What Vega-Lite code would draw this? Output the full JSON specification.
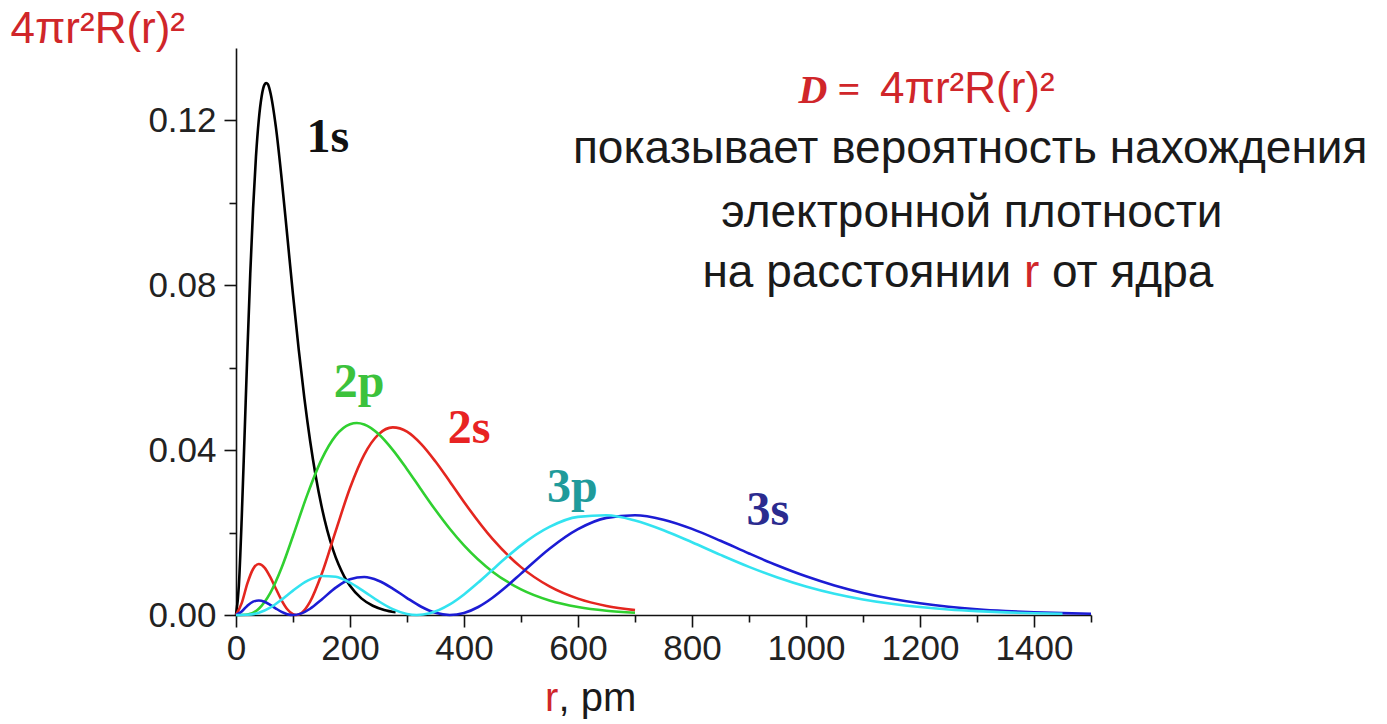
{
  "$schema": "https://vega.github.io/schema/vega-lite/v6.json",
  "width": 855,
  "height": 567,
  "autosize": "none",
  "padding": {"left": 236, "top": 48, "right": 296, "bottom": 109},
  "background": "white",
  "config": {"view": {"stroke": null}, "font": "Liberation Sans"},
  "datasets": {
    "curves": [
      {"o": "1s", "r": 0, "v": 0}, {"o": "1s", "r": 5, "v": 0.00705}, {"o": "1s", "r": 10, "v": 0.02334}, {"o": "1s", "r": 15, "v": 0.04347}, {"o": "1s", "r": 20, "v": 0.06395}, {"o": "1s", "r": 25, "v": 0.08272}, {"o": "1s", "r": 30, "v": 0.09862}, {"o": "1s", "r": 35, "v": 0.1111}, {"o": "1s", "r": 40, "v": 0.1201}, {"o": "1s", "r": 45, "v": 0.1258}, {"o": "1s", "r": 50, "v": 0.1286}, {"o": "1s", "r": 53, "v": 0.129}, {"o": "1s", "r": 56, "v": 0.1287}, {"o": "1s", "r": 60, "v": 0.1269}, {"o": "1s", "r": 70, "v": 0.1183}, {"o": "1s", "r": 80, "v": 0.1059}, {"o": "1s", "r": 90, "v": 0.09185}, {"o": "1s", "r": 100, "v": 0.0777}, {"o": "1s", "r": 110, "v": 0.06442}, {"o": "1s", "r": 120, "v": 0.05253}, {"o": "1s", "r": 130, "v": 0.04225}, {"o": "1s", "r": 140, "v": 0.03357}, {"o": "1s", "r": 150, "v": 0.02641}, {"o": "1s", "r": 160, "v": 0.02058}, {"o": "1s", "r": 170, "v": 0.01593}, {"o": "1s", "r": 180, "v": 0.01223}, {"o": "1s", "r": 190, "v": 0.00933}, {"o": "1s", "r": 200, "v": 0.00709}, {"o": "1s", "r": 220, "v": 0.00403}, {"o": "1s", "r": 240, "v": 0.00225}, {"o": "1s", "r": 260, "v": 0.00124}, {"o": "1s", "r": 280, "v": 0.00068},

      {"o": "2s", "r": 0, "v": 0}, {"o": "2s", "r": 10, "v": 0.00289}, {"o": "2s", "r": 20, "v": 0.00767}, {"o": "2s", "r": 30, "v": 0.01116}, {"o": "2s", "r": 40, "v": 0.01237}, {"o": "2s", "r": 50, "v": 0.01151}, {"o": "2s", "r": 60, "v": 0.00924}, {"o": "2s", "r": 70, "v": 0.00636}, {"o": "2s", "r": 80, "v": 0.00357}, {"o": "2s", "r": 90, "v": 0.0014}, {"o": "2s", "r": 100, "v": 0.00019}, {"o": "2s", "r": 106, "v": 0}, {"o": "2s", "r": 115, "v": 0.00048}, {"o": "2s", "r": 130, "v": 0.00323}, {"o": "2s", "r": 150, "v": 0.00982}, {"o": "2s", "r": 175, "v": 0.02041}, {"o": "2s", "r": 200, "v": 0.0308}, {"o": "2s", "r": 225, "v": 0.03891}, {"o": "2s", "r": 250, "v": 0.04381}, {"o": "2s", "r": 275, "v": 0.0455}, {"o": "2s", "r": 300, "v": 0.04447}, {"o": "2s", "r": 325, "v": 0.04145}, {"o": "2s", "r": 350, "v": 0.03721}, {"o": "2s", "r": 375, "v": 0.03237}, {"o": "2s", "r": 400, "v": 0.0274}, {"o": "2s", "r": 450, "v": 0.01845}, {"o": "2s", "r": 500, "v": 0.01161}, {"o": "2s", "r": 550, "v": 0.00694}, {"o": "2s", "r": 600, "v": 0.00397}, {"o": "2s", "r": 650, "v": 0.0022}, {"o": "2s", "r": 700, "v": 0.00118},

      {"o": "2p", "r": 0, "v": 0}, {"o": "2p", "r": 20, "v": 0.00014}, {"o": "2p", "r": 40, "v": 0.00152}, {"o": "2p", "r": 60, "v": 0.00529}, {"o": "2p", "r": 80, "v": 0.01145}, {"o": "2p", "r": 100, "v": 0.01915}, {"o": "2p", "r": 125, "v": 0.02913}, {"o": "2p", "r": 150, "v": 0.03768}, {"o": "2p", "r": 175, "v": 0.04351}, {"o": "2p", "r": 200, "v": 0.04627}, {"o": "2p", "r": 212, "v": 0.04656}, {"o": "2p", "r": 225, "v": 0.04621}, {"o": "2p", "r": 250, "v": 0.0439}, {"o": "2p", "r": 275, "v": 0.04006}, {"o": "2p", "r": 300, "v": 0.03537}, {"o": "2p", "r": 325, "v": 0.03037}, {"o": "2p", "r": 350, "v": 0.02546}, {"o": "2p", "r": 375, "v": 0.02092}, {"o": "2p", "r": 400, "v": 0.01688}, {"o": "2p", "r": 450, "v": 0.01051}, {"o": "2p", "r": 500, "v": 0.00623}, {"o": "2p", "r": 550, "v": 0.00354}, {"o": "2p", "r": 600, "v": 0.00195}, {"o": "2p", "r": 650, "v": 0.00104}, {"o": "2p", "r": 700, "v": 0.00055},

      {"o": "3s", "r": 0, "v": 0}, {"o": "3s", "r": 10, "v": 0.00086}, {"o": "3s", "r": 20, "v": 0.00226}, {"o": "3s", "r": 30, "v": 0.00325}, {"o": "3s", "r": 40, "v": 0.00353}, {"o": "3s", "r": 50, "v": 0.0032}, {"o": "3s", "r": 60, "v": 0.00246}, {"o": "3s", "r": 70, "v": 0.00157}, {"o": "3s", "r": 80, "v": 0.00077}, {"o": "3s", "r": 90, "v": 0.00021}, {"o": "3s", "r": 100, "v": 0}, {"o": "3s", "r": 115, "v": 0.00039}, {"o": "3s", "r": 130, "v": 0.00151}, {"o": "3s", "r": 150, "v": 0.00372}, {"o": "3s", "r": 175, "v": 0.00664}, {"o": "3s", "r": 200, "v": 0.00866}, {"o": "3s", "r": 225, "v": 0.0092}, {"o": "3s", "r": 250, "v": 0.00832}, {"o": "3s", "r": 275, "v": 0.00642}, {"o": "3s", "r": 300, "v": 0.00411}, {"o": "3s", "r": 325, "v": 0.002}, {"o": "3s", "r": 350, "v": 0.00053}, {"o": "3s", "r": 375, "v": 0}, {"o": "3s", "r": 400, "v": 0.00049}, {"o": "3s", "r": 425, "v": 0.00194}, {"o": "3s", "r": 450, "v": 0.00418}, {"o": "3s", "r": 475, "v": 0.00696}, {"o": "3s", "r": 500, "v": 0.01003}, {"o": "3s", "r": 550, "v": 0.01607}, {"o": "3s", "r": 600, "v": 0.02081}, {"o": "3s", "r": 650, "v": 0.02355}, {"o": "3s", "r": 700, "v": 0.02419}, {"o": "3s", "r": 750, "v": 0.02311}, {"o": "3s", "r": 800, "v": 0.02088}, {"o": "3s", "r": 850, "v": 0.018}, {"o": "3s", "r": 900, "v": 0.01493}, {"o": "3s", "r": 950, "v": 0.012}, {"o": "3s", "r": 1000, "v": 0.00938}, {"o": "3s", "r": 1050, "v": 0.00716}, {"o": "3s", "r": 1100, "v": 0.00535}, {"o": "3s", "r": 1150, "v": 0.00392}, {"o": "3s", "r": 1200, "v": 0.00283}, {"o": "3s", "r": 1250, "v": 0.00201}, {"o": "3s", "r": 1300, "v": 0.00141}, {"o": "3s", "r": 1350, "v": 0.00098}, {"o": "3s", "r": 1400, "v": 0.00067}, {"o": "3s", "r": 1450, "v": 0.00045}, {"o": "3s", "r": 1500, "v": 0.0003},

      {"o": "3p", "r": 0, "v": 0}, {"o": "3p", "r": 20, "v": 0.00005}, {"o": "3p", "r": 40, "v": 0.00053}, {"o": "3p", "r": 60, "v": 0.00178}, {"o": "3p", "r": 80, "v": 0.00372}, {"o": "3p", "r": 100, "v": 0.00592}, {"o": "3p", "r": 125, "v": 0.00827}, {"o": "3p", "r": 150, "v": 0.00947}, {"o": "3p", "r": 175, "v": 0.00927}, {"o": "3p", "r": 200, "v": 0.00784}, {"o": "3p", "r": 225, "v": 0.00568}, {"o": "3p", "r": 250, "v": 0.00336}, {"o": "3p", "r": 275, "v": 0.00142}, {"o": "3p", "r": 300, "v": 0.00025}, {"o": "3p", "r": 317, "v": 0}, {"o": "3p", "r": 340, "v": 0.00042}, {"o": "3p", "r": 375, "v": 0.00257}, {"o": "3p", "r": 400, "v": 0.00499}, {"o": "3p", "r": 425, "v": 0.00788}, {"o": "3p", "r": 450, "v": 0.01098}, {"o": "3p", "r": 475, "v": 0.01404}, {"o": "3p", "r": 500, "v": 0.01689}, {"o": "3p", "r": 550, "v": 0.02137}, {"o": "3p", "r": 600, "v": 0.0238}, {"o": "3p", "r": 650, "v": 0.02418}, {"o": "3p", "r": 700, "v": 0.02292}, {"o": "3p", "r": 750, "v": 0.02056}, {"o": "3p", "r": 800, "v": 0.01764}, {"o": "3p", "r": 850, "v": 0.01458}, {"o": "3p", "r": 900, "v": 0.01167}, {"o": "3p", "r": 950, "v": 0.0091}, {"o": "3p", "r": 1000, "v": 0.00692}, {"o": "3p", "r": 1050, "v": 0.00516}, {"o": "3p", "r": 1100, "v": 0.00378}, {"o": "3p", "r": 1150, "v": 0.00272}, {"o": "3p", "r": 1200, "v": 0.00193}, {"o": "3p", "r": 1250, "v": 0.00135}, {"o": "3p", "r": 1300, "v": 0.00094}, {"o": "3p", "r": 1350, "v": 0.00064}, {"o": "3p", "r": 1400, "v": 0.00043}, {"o": "3p", "r": 1450, "v": 0.00029}
    ]
  },
  "layer": [
    {
      "data": {"name": "curves"},
      "mark": {"type": "line", "strokeWidth": 2.6, "interpolate": "monotone"},
      "encoding": {
        "x": {
          "field": "r", "type": "quantitative",
          "scale": {"domain": [0, 1500], "nice": false, "zero": false},
          "axis": {"orient": "bottom", "values": [0, 200, 400, 600, 800, 1000, 1200, 1400], "format": "d", "title": null, "grid": false,
                   "tickSize": 12, "tickWidth": 1.6, "tickColor": "#111111", "domainColor": "#111111", "domainWidth": 1.6,
                   "labelFontSize": 35, "labelColor": "#222222", "labelPadding": 4, "labelFlush": false, "labelFont": "Liberation Sans"}
        },
        "y": {
          "field": "v", "type": "quantitative",
          "scale": {"domain": [0, 0.1375], "nice": false},
          "axis": {"orient": "left", "values": [0, 0.04, 0.08, 0.12], "format": ".2f", "grid": false,
                   "title": "4πr²R(r)²", "titleAngle": 0, "titleAlign": "left", "titleBaseline": "alphabetic",
                   "titleX": -226, "titleY": -6, "titleFontSize": 44, "titleFontWeight": "normal", "titleColor": "#d0262a", "titleFont": "Liberation Sans",
                   "tickSize": 12, "tickWidth": 1.6, "tickColor": "#111111", "domainColor": "#111111", "domainWidth": 1.6,
                   "labelFontSize": 35, "labelColor": "#222222", "labelPadding": 8, "labelFlush": false, "labelFont": "Liberation Sans"}
        },
        "color": {
          "field": "o", "type": "nominal",
          "scale": {"domain": ["3s", "3p", "2p", "2s", "1s"], "range": ["#1c1cd4", "#33e3f0", "#30d030", "#e4261f", "#000000"]},
          "legend": null
        }
      }
    },
    {
      "data": {"values": [
        {"r": 1288, "v": 0.1096, "t": "показывает вероятность нахождения"},
        {"r": 1291, "v": 0.0941, "t": "электронной плотности"}
      ]},
      "mark": {"type": "text", "align": "center", "baseline": "alphabetic", "fontSize": 46, "font": "Liberation Sans", "color": "#1a1a1a"},
      "encoding": {
        "x": {"field": "r", "type": "quantitative",
              "axis": {"orient": "bottom", "values": [100, 300, 500, 700, 900, 1100, 1300, 1500], "labels": false, "domain": false, "grid": false, "title": null,
                       "tickSize": 7, "tickWidth": 1.6, "tickColor": "#111111"}},
        "y": {"field": "v", "type": "quantitative",
              "axis": {"orient": "left", "values": [0.02, 0.06, 0.1], "labels": false, "domain": false, "grid": false, "title": null,
                       "tickSize": 7, "tickWidth": 1.6, "tickColor": "#111111"}},
        "text": {"field": "t"}
      }
    },
    {
      "data": {"values": [{"r": 1360, "v": 0.0795, "t": "на расстоянии"}]},
      "mark": {"type": "text", "align": "right", "baseline": "alphabetic", "fontSize": 46, "font": "Liberation Sans", "color": "#1a1a1a"},
      "encoding": {"x": {"field": "r", "type": "quantitative", "axis": null}, "y": {"field": "v", "type": "quantitative", "axis": null}, "text": {"field": "t"}}
    },
    {
      "data": {"values": [{"r": 1431.6, "v": 0.0795, "t": "от ядра"}]},
      "mark": {"type": "text", "align": "left", "baseline": "alphabetic", "fontSize": 46, "font": "Liberation Sans", "color": "#1a1a1a"},
      "encoding": {"x": {"field": "r", "type": "quantitative", "axis": null}, "y": {"field": "v", "type": "quantitative", "axis": null}, "text": {"field": "t"}}
    },
    {
      "data": {"values": [{"r": 1382.5, "v": 0.0795, "t": "r"}]},
      "mark": {"type": "text", "align": "left", "baseline": "alphabetic", "fontSize": 46, "font": "Liberation Sans", "color": "#d0262a"},
      "encoding": {"x": {"field": "r", "type": "quantitative", "axis": null}, "y": {"field": "v", "type": "quantitative", "axis": null}, "text": {"field": "t"}}
    },
    {
      "data": {"values": [{"r": 1130, "v": 0.1241, "t": "4πr²R(r)²"}]},
      "mark": {"type": "text", "align": "left", "baseline": "alphabetic", "fontSize": 44, "font": "Liberation Sans", "color": "#d0262a"},
      "encoding": {"x": {"field": "r", "type": "quantitative", "axis": null}, "y": {"field": "v", "type": "quantitative", "axis": null}, "text": {"field": "t"}}
    },
    {
      "data": {"values": [{"r": 1095, "v": 0.1241, "t": "D ="}]},
      "mark": {"type": "text", "align": "right", "baseline": "alphabetic", "fontSize": 40, "font": "Liberation Serif", "fontStyle": "italic", "fontWeight": "bold", "color": "#d0262a"},
      "encoding": {"x": {"field": "r", "type": "quantitative", "axis": null}, "y": {"field": "v", "type": "quantitative", "axis": null}, "text": {"field": "t"}}
    },
    {
      "data": {"values": [{"r": 542, "v": -0.0233, "t": "r"}]},
      "mark": {"type": "text", "align": "left", "baseline": "alphabetic", "fontSize": 40, "font": "Liberation Sans", "color": "#d0262a"},
      "encoding": {"x": {"field": "r", "type": "quantitative", "axis": null}, "y": {"field": "v", "type": "quantitative", "axis": null}, "text": {"field": "t"}}
    },
    {
      "data": {"values": [{"r": 566, "v": -0.0233, "t": ", pm"}]},
      "mark": {"type": "text", "align": "left", "baseline": "alphabetic", "fontSize": 40, "font": "Liberation Sans", "color": "#1a1a1a"},
      "encoding": {"x": {"field": "r", "type": "quantitative", "axis": null}, "y": {"field": "v", "type": "quantitative", "axis": null}, "text": {"field": "t"}}
    },
    {
      "data": {"values": [
        {"r": 161, "v": 0.1122, "t": "1s"},
        {"r": 216, "v": 0.0528, "t": "2p"},
        {"r": 409, "v": 0.0417, "t": "2s"},
        {"r": 590, "v": 0.0274, "t": "3p"},
        {"r": 933, "v": 0.0218, "t": "3s"}
      ]},
      "mark": {"type": "text", "align": "center", "baseline": "alphabetic", "fontSize": 48, "font": "Liberation Serif", "fontWeight": "bold"},
      "encoding": {
        "x": {"field": "r", "type": "quantitative", "axis": null},
        "y": {"field": "v", "type": "quantitative", "axis": null},
        "text": {"field": "t"},
        "color": {"field": "t", "type": "nominal",
                  "scale": {"domain": ["1s", "2p", "2s", "3p", "3s"], "range": ["#111111", "#3cc23c", "#e82323", "#1f9b9b", "#2b2b8f"]},
                  "legend": null}
      }
    }
  ],
  "resolve": {"scale": {"color": "independent"}, "axis": {"x": "independent", "y": "independent"}}
}
